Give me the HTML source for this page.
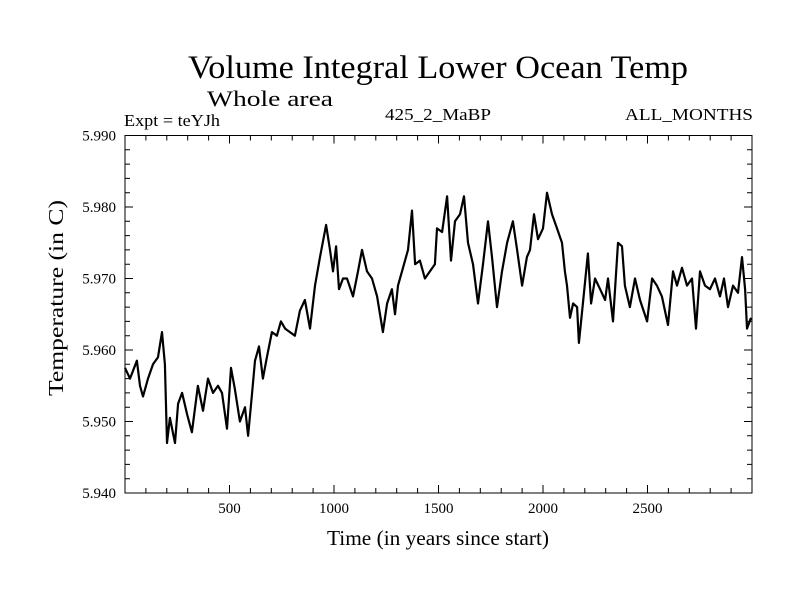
<!DOCTYPE html>
<html><head><meta charset="utf-8"><style>
html,body{margin:0;padding:0;background:#fff;}
svg{display:block;font-family:"Liberation Serif",serif;}
</style></head><body>
<svg id="chart" width="800" height="600" viewBox="0 0 800 600">
<rect width="800" height="600" fill="#fff"/>
<text x="438" y="78" font-size="33" text-anchor="middle" textLength="500" lengthAdjust="spacingAndGlyphs">Volume Integral Lower Ocean Temp</text>
<text x="207" y="106" font-size="22" textLength="126" lengthAdjust="spacingAndGlyphs">Whole area</text>
<text x="124" y="126" font-size="17" textLength="96" lengthAdjust="spacingAndGlyphs">Expt = teYJh</text>
<text x="385" y="120" font-size="17" textLength="106" lengthAdjust="spacingAndGlyphs">425_2_MaBP</text>
<text x="753" y="120" font-size="17" text-anchor="end" textLength="128" lengthAdjust="spacingAndGlyphs">ALL_MONTHS</text>
<g id="axes"></g>
<text x="438" y="545" font-size="21" text-anchor="middle" textLength="222" lengthAdjust="spacingAndGlyphs">Time (in years since start)</text>
<text transform="translate(63,298) rotate(-90)" font-size="21" text-anchor="middle" textLength="196" lengthAdjust="spacingAndGlyphs">Temperature (in C)</text>
</svg>
<script>
const years = [0,24,57,72,86,110,134,158,177,191,201,215,239,254,273,297,320,349,373,397,421,445,464,488,507,526,550,574,589,608,622,641,660,679,703,727,746,766,789,813,837,861,885,909,933,962,981,995,1010,1024,1043,1062,1091,1115,1134,1158,1182,1206,1234,1254,1277,1292,1306,1330,1354,1373,1388,1411,1435,1459,1483,1493,1517,1541,1560,1579,1603,1622,1641,1665,1689,1713,1737,1756,1780,1804,1828,1856,1876,1900,1923,1938,1957,1976,2000,2019,2043,2067,2091,2105,2115,2129,2144,2163,2172,2191,2215,2230,2249,2273,2297,2311,2335,2359,2378,2392,2416,2440,2464,2498,2522,2545,2569,2598,2622,2641,2665,2689,2713,2732,2751,2775,2799,2823,2847,2866,2885,2909,2933,2952,2967,2976,2995];
const temps = [5.9575,5.956,5.9585,5.955,5.9535,5.956,5.958,5.959,5.9625,5.958,5.947,5.9505,5.947,5.9525,5.954,5.951,5.9485,5.955,5.9515,5.956,5.954,5.955,5.954,5.949,5.9575,5.9545,5.950,5.952,5.948,5.954,5.9585,5.9605,5.956,5.959,5.9625,5.962,5.964,5.963,5.9625,5.962,5.9655,5.967,5.963,5.969,5.973,5.9775,5.974,5.971,5.9745,5.9685,5.970,5.970,5.9675,5.971,5.974,5.971,5.970,5.9675,5.9625,5.9665,5.9685,5.965,5.969,5.9715,5.974,5.9795,5.972,5.9725,5.970,5.971,5.972,5.977,5.9765,5.9815,5.9725,5.978,5.979,5.9815,5.975,5.972,5.9665,5.972,5.978,5.973,5.966,5.971,5.975,5.978,5.974,5.969,5.973,5.974,5.979,5.9755,5.977,5.982,5.979,5.977,5.975,5.971,5.969,5.9645,5.9665,5.966,5.961,5.9665,5.9735,5.9665,5.970,5.9685,5.967,5.970,5.964,5.975,5.9745,5.969,5.966,5.970,5.967,5.964,5.970,5.969,5.9675,5.9635,5.971,5.969,5.9715,5.969,5.970,5.963,5.971,5.969,5.9685,5.970,5.9675,5.970,5.966,5.969,5.968,5.973,5.9685,5.963,5.9645];
const xTickLabels = [500,1000,1500,2000,2500];
const yTickLabels = ["5.940","5.950","5.960","5.970","5.980","5.990"];

const X0=125,X1=752,Y0=493,Y1=135.5;
const xMin=0,xMax=3000,yMin=5.94,yMax=5.99;
function sx(v){return X0+(v-xMin)/(xMax-xMin)*(X1-X0);}
function sy(v){return Y0-(v-yMin)/(yMax-yMin)*(Y0-Y1);}
const NS="http://www.w3.org/2000/svg";
const g=document.getElementById('axes');
function mk(tag,attrs,parent){const e=document.createElementNS(NS,tag);for(const k in attrs)e.setAttribute(k,attrs[k]);(parent||g).appendChild(e);return e;}

const frame=mk('rect',{x:X0,y:Y1,width:X1-X0,height:Y0-Y1,fill:'none',stroke:'#000','stroke-width':1});



let d='';
for(let t=100;t<xMax;t+=100){
  const L=(t%500===0)?8:5, x=sx(t);
  d+=`M${x},${Y0}v${-L}M${x},${Y1}v${L}`;
}
for(let i=1;i<25;i++){
  const v=yMin+i*0.002, L=(i%5===0)?8:5, y=sy(v);
  d+=`M${X0},${y}h${L}M${X1},${y}h${-L}`;
}
const ticks=mk('path',{d:d,stroke:'#000','stroke-width':1,fill:'none'});



xTickLabels.forEach(t=>{
  const e=mk('text',{x:sx(t),y:513,'font-size':15,'text-anchor':'middle'});
  e.textContent=t;
  
  
});
yTickLabels.forEach(s=>{
  const e=mk('text',{x:116,y:sy(parseFloat(s))+5,'font-size':15,'text-anchor':'end'});
  e.textContent=s;
  
  
});

const pts=years.map((yr,i)=>sx(yr).toFixed(1)+','+sy(temps[i]).toFixed(1)).join(' ');
const line=mk('polyline',{points:pts,fill:'none',stroke:'#000','stroke-width':2.2,'stroke-linejoin':'round'});


</script>
</body></html>
